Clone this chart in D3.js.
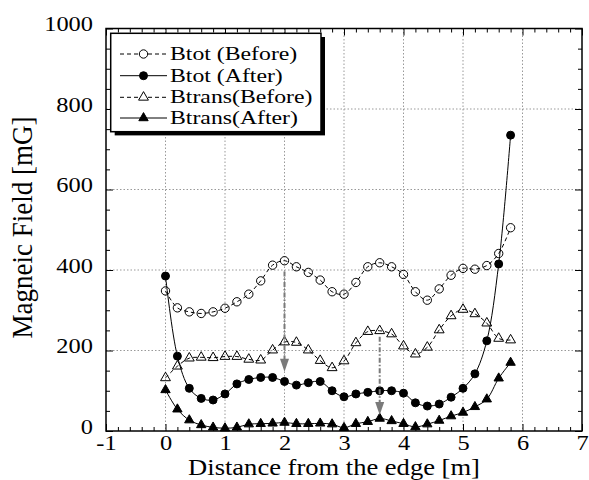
<!DOCTYPE html>
<html>
<head>
<meta charset="utf-8">
<script src="https://cdn.jsdelivr.net/npm/d3@7"></script>
<style>
  body { margin: 0; background: #fff; }
  text { font-family: "Liberation Serif", "Times New Roman", serif; fill: #000; }
</style>
</head>
<body>
<div id="chart"></div>
<script>
// distance from the edge [m]
var distances = [0, 0.2, 0.4, 0.6, 0.8, 1.0, 1.2, 1.4, 1.6, 1.8, 2.0, 2.2, 2.4, 2.6, 2.8,
                 3.0, 3.2, 3.4, 3.6, 3.8, 4.0, 4.2, 4.4, 4.6, 4.8, 5.0, 5.2, 5.4, 5.6, 5.8];

// magnetic field [mG]
var btotBefore = [348, 306, 296, 292, 296, 305, 321, 340, 373, 412, 423, 408, 394, 375, 346,
                  340, 369, 408, 418, 408, 389, 346, 325, 353, 387, 404, 402, 411, 441, 505];
var btotAfter = [385, 186, 106, 81, 77, 92, 117, 128, 133, 133, 123, 114, 120, 123, 100,
                 85, 92, 96, 100, 100, 94, 70, 62, 67, 84, 106, 142, 224, 415, 735];
var btransBefore = [132, 161, 181, 183, 182, 185, 185, 178, 176, 201, 221, 220, 201, 175, 157,
                    174, 219, 247, 249, 241, 211, 191, 208, 251, 286, 302, 291, 268, 230, 226];
var btransAfter = [102, 54, 27, 15, 9, 7, 9, 17, 18, 19, 21, 18, 18, 19, 17,
                   8, 18, 23, 31, 25, 18, 10, 17, 26, 37, 46, 60, 79, 131, 170];

var seriesNames = ["Btot (Before)", "Btot (After)", "Btrans(Before)", "Btrans(After)"];

var xTicks = [-1, 0, 1, 2, 3, 4, 5, 6, 7];
var yTicks = [0, 200, 400, 600, 800, 1000];

// arrows: x position, start value, tip value
var arrowX = [2.0, 3.6];
var arrowFrom = [396, 234];
var arrowTo = [147, 40];

var svgWidth = 589;
var svgHeight = 480;
var margin = { top: 28.5, right: 7, bottom: 49, left: 106 };
var width = svgWidth - margin.left - margin.right;
var height = svgHeight - margin.top - margin.bottom;

var svg = d3.select("#chart")
  .append("svg")
  .attr("width", svgWidth)
  .attr("height", svgHeight);

var chartGroup = svg.append("g")
  .attr("transform", `translate(${margin.left}, ${margin.top})`);

var x = d3.scaleLinear().domain([-1, 7]).range([0, width]);
var y = d3.scaleLinear().domain([0, 1000]).range([height, 0]);

// dotted grid
chartGroup.append("g").selectAll("line")
  .data(xTicks.slice(1, -1))
  .enter().append("line")
  .attr("x1", d => x(d)).attr("x2", d => x(d))
  .attr("y1", 0).attr("y2", height)
  .attr("stroke", "#999").attr("stroke-width", 1)
  .attr("stroke-dasharray", "1.5,2");

chartGroup.append("g").selectAll("line")
  .data(yTicks.slice(1, -1))
  .enter().append("line")
  .attr("x1", 0).attr("x2", width)
  .attr("y1", d => y(d)).attr("y2", d => y(d))
  .attr("stroke", "#999").attr("stroke-width", 1)
  .attr("stroke-dasharray", "1.5,2");

// series
var series = [
  { name: seriesNames[0], values: btotBefore, dashed: true, shape: d3.symbolCircle, size: 55, filled: false },
  { name: seriesNames[1], values: btotAfter, dashed: false, shape: d3.symbolCircle, size: 50, filled: true },
  { name: seriesNames[2], values: btransBefore, dashed: true, shape: d3.symbolTriangle, size: 42, filled: false },
  { name: seriesNames[3], values: btransAfter, dashed: false, shape: d3.symbolTriangle, size: 38, filled: true }
];

var line = d3.line()
  .x((d, i) => x(distances[i]))
  .y(d => y(d))
  .curve(d3.curveCatmullRom);

series.forEach(function(s) {
  chartGroup.append("path")
    .datum(s.values)
    .attr("d", line)
    .attr("fill", "none")
    .attr("stroke", "#000")
    .attr("stroke-width", 1)
    .attr("stroke-dasharray", s.dashed ? "4,3" : null);

  chartGroup.append("g").selectAll("path")
    .data(s.values)
    .enter().append("path")
    .attr("d", d3.symbol().type(s.shape).size(s.size))
    .attr("transform", (d, i) => `translate(${x(distances[i])}, ${y(d)})`)
    .attr("fill", s.filled ? "#000" : "none")
    .attr("stroke", "#000")
    .attr("stroke-width", 1);
});

// gray dash-dot arrows
arrowX.forEach(function(ax, i) {
  var px = x(ax);
  var tip = y(arrowTo[i]);
  chartGroup.append("line")
    .attr("x1", px).attr("x2", px)
    .attr("y1", y(arrowFrom[i])).attr("y2", tip - 11)
    .attr("stroke", "#7a7a7a").attr("stroke-width", 2)
    .attr("stroke-dasharray", "5,2,1.5,2");
  chartGroup.append("path")
    .attr("d", `M${px - 4.5},${tip - 13} L${px + 4.5},${tip - 13} L${px},${tip} Z`)
    .attr("fill", "#7a7a7a");
});

// frame
chartGroup.append("rect")
  .attr("width", width).attr("height", height)
  .attr("fill", "none").attr("stroke", "#000").attr("stroke-width", 1.5);

// ticks (inward, all four sides)
var xMinor = x.ticks(40).filter(d => Math.abs(d - Math.round(d)) > 1e-6);
var yMinor = d3.range(50, 1000, 50).filter(d => d % 200 !== 0);

function clean(g) { g.select(".domain").remove(); }

var bottomAxis = chartGroup.append("g")
  .attr("transform", `translate(0, ${height})`)
  .call(d3.axisBottom(x).tickValues(xTicks).tickSize(-7).tickFormat(d => String(d)))
  .call(clean);
bottomAxis.selectAll("text")
  .attr("y", 19).attr("dy", 0)
  .attr("transform", "scale(1.22,1)")
  .style("font-size", "20px")
  .style("font-family", '"Liberation Serif", serif');

chartGroup.append("g")
  .attr("transform", `translate(0, ${height})`)
  .call(d3.axisBottom(x).tickValues(xMinor).tickSize(-4).tickFormat(""))
  .call(clean);
chartGroup.append("g")
  .call(d3.axisTop(x).tickValues(xTicks).tickSize(-7).tickFormat(""))
  .call(clean);
chartGroup.append("g")
  .call(d3.axisTop(x).tickValues(xMinor).tickSize(-4).tickFormat(""))
  .call(clean);

var leftAxis = chartGroup.append("g")
  .call(d3.axisLeft(y).tickValues(yTicks).tickSize(-7).tickPadding(10.7).tickFormat(d => String(d)))
  .call(clean);
leftAxis.selectAll("text")
  .attr("dy", "0.12em")
  .attr("transform", "scale(1.22,1)")
  .style("font-size", "20px")
  .style("font-family", '"Liberation Serif", serif');

chartGroup.append("g")
  .call(d3.axisLeft(y).tickValues(yMinor).tickSize(-4).tickFormat(""))
  .call(clean);
chartGroup.append("g")
  .attr("transform", `translate(${width}, 0)`)
  .call(d3.axisRight(y).tickValues(yTicks).tickSize(-7).tickFormat(""))
  .call(clean);
chartGroup.append("g")
  .attr("transform", `translate(${width}, 0)`)
  .call(d3.axisRight(y).tickValues(yMinor).tickSize(-4).tickFormat(""))
  .call(clean);

chartGroup.selectAll(".tick line").attr("stroke", "#000").attr("stroke-width", 1);

// axis titles
svg.append("text")
  .attr("transform", `translate(${margin.left + width / 2 - 10}, 474.5) scale(1.18,1)`)
  .attr("text-anchor", "middle")
  .style("font-size", "22.5px")
  .text("Distance from the edge [m]");

svg.append("text")
  .attr("transform", "translate(32, 227.5) scale(1.12,1) rotate(-90)")
  .attr("text-anchor", "middle")
  .style("font-size", "27px")
  .text("Magneic Field [mG]");

// legend
var legend = svg.append("g");
legend.append("rect")
  .attr("x", 114.7).attr("y", 37).attr("width", 210.3).attr("height", 98.4)
  .attr("fill", "#000");
legend.append("rect")
  .attr("x", 110.7).attr("y", 33.3).attr("width", 210.3).attr("height", 98.4)
  .attr("fill", "#fff").attr("stroke", "#000").attr("stroke-width", 1.5);

var rowY = [54, 75.7, 97.3, 118];
series.forEach(function(s, i) {
  var row = legend.append("g");
  row.append("line")
    .attr("x1", 120).attr("x2", 167)
    .attr("y1", rowY[i]).attr("y2", rowY[i])
    .attr("stroke", "#000").attr("stroke-width", 1)
    .attr("stroke-dasharray", s.dashed ? "4,3" : null);
  row.append("path")
    .attr("d", d3.symbol().type(s.shape).size(s.size))
    .attr("transform", `translate(143.5, ${rowY[i]})`)
    .attr("fill", s.filled ? "#000" : "#fff")
    .attr("stroke", "#000");
  row.append("text")
    .attr("transform", `translate(170, ${rowY[i] + 6}) scale(1.25,1)`)
    .style("font-size", "19px")
    .text(s.name);
});
</script>
</body>
</html>
